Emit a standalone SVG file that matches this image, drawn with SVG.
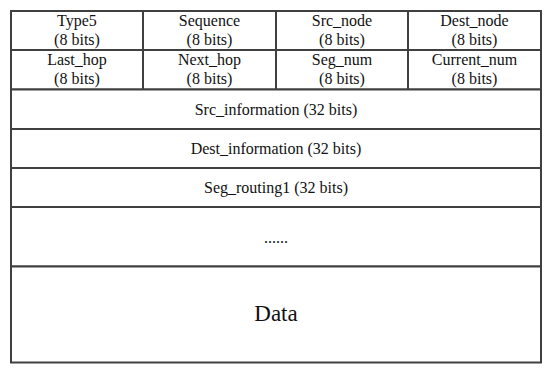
<svg xmlns="http://www.w3.org/2000/svg" width="550" height="373" viewBox="0 0 550 373">
<style>
text{font-family:'Liberation Serif','Times New Roman','DejaVu Serif',serif;fill:#111;text-anchor:middle}
.c{fill:#fff;stroke:#404040;stroke-width:2}
.t{font-size:16px}
.d{font-size:23px}
</style>
<rect width="550" height="373" fill="#fff"/>
<g id="type5"><rect class="c" x="11" y="11" width="132" height="39"/><text class="t" x="77" y="26">Type5</text><text class="t" x="77" y="45">(8 bits)</text></g>
<g id="sequence"><rect class="c" x="143" y="11" width="133" height="39"/><text class="t" x="209.5" y="26">Sequence</text><text class="t" x="209.5" y="45">(8 bits)</text></g>
<g id="src_node"><rect class="c" x="276" y="11" width="132" height="39"/><text class="t" x="342" y="26">Src_node</text><text class="t" x="342" y="45">(8 bits)</text></g>
<g id="dest_node"><rect class="c" x="408" y="11" width="133" height="39"/><text class="t" x="474.5" y="26">Dest_node</text><text class="t" x="474.5" y="45">(8 bits)</text></g>
<g id="last_hop"><rect class="c" x="11" y="50" width="132" height="39.5"/><text class="t" x="77" y="65">Last_hop</text><text class="t" x="77" y="84">(8 bits)</text></g>
<g id="next_hop"><rect class="c" x="143" y="50" width="133" height="39.5"/><text class="t" x="209.5" y="65">Next_hop</text><text class="t" x="209.5" y="84">(8 bits)</text></g>
<g id="seg_num"><rect class="c" x="276" y="50" width="132" height="39.5"/><text class="t" x="342" y="65">Seg_num</text><text class="t" x="342" y="84">(8 bits)</text></g>
<g id="current_num"><rect class="c" x="408" y="50" width="133" height="39.5"/><text class="t" x="474.5" y="65">Current_num</text><text class="t" x="474.5" y="84">(8 bits)</text></g>
<g id="src_information"><rect class="c" x="11" y="89.5" width="530" height="39.5"/><text class="t" x="276" y="115">Src_information (32 bits)</text></g>
<g id="dest_information"><rect class="c" x="11" y="129" width="530" height="39"/><text class="t" x="276" y="153.5">Dest_information (32 bits)</text></g>
<g id="seg_routing1"><rect class="c" x="11" y="168" width="530" height="39"/><text class="t" x="276" y="192.5">Seg_routing1 (32 bits)</text></g>
<g id="ellipsis"><rect class="c" x="11" y="207" width="530" height="59.5"/><text class="t" x="276" y="243">......</text></g>
<g id="data"><rect class="c" x="11" y="266.5" width="530" height="96"/><text class="d" x="276" y="321">Data</text></g>
<g id="connectors"/>
</svg>
